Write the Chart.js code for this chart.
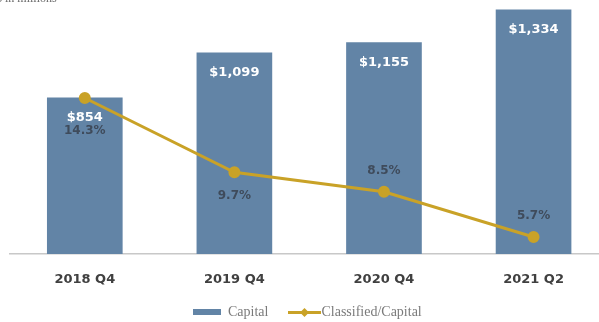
<!DOCTYPE html>
<html>
<head>
<meta charset="utf-8">
<script src="https://cdn.jsdelivr.net/npm/chart.js@4.4.0/dist/chart.umd.min.js"></script>
<style>
    html, body { margin: 0; padding: 0; background: #ffffff; overflow: hidden; }
    #wrap { position: relative; width: 599px; height: 322px; }
    #unit {
        position: absolute; left: -4px; top: -9px;
        font: 12px "Liberation Serif", serif; color: #6b6b6b;
    }
    #legenda {
        position: absolute; left: 193px; top: 303px; height: 18px;
        display: flex; align-items: center;
        font: 14px "Liberation Serif", serif; color: #7a7a7a;
    }
    #legenda .item { display: flex; align-items: center; }
    #legenda canvas { display: block; }
</style>
</head>
<body>
<div id="wrap">
    <div id="unit">$ in millions</div>
    <canvas id="grafico"></canvas>
    <div id="legenda"></div>
</div>
<script>
const categorias = ['2018 Q4', '2019 Q4', '2020 Q4', '2021 Q2'];
const capital = [854, 1099, 1155, 1334];
const classificado = [14.3, 9.7, 8.5, 5.7];
// rótulo % abaixo ou acima do ponto
const posRotuloPct = ['below', 'below', 'above', 'above'];

const corBarra = '#6284a6';
const corLinha = '#c9a227';

// ícones da legenda
function iconeBarra() {
    const c = document.createElement('canvas');
    c.width = 28; c.height = 6;
    const g = c.getContext('2d');
    g.fillStyle = corBarra;
    g.fillRect(0, 0, 28, 6);
    c.style.marginRight = '7px';
    return c;
}
function iconeLinha() {
    const c = document.createElement('canvas');
    c.width = 33; c.height = 9;
    const g = c.getContext('2d');
    g.strokeStyle = corLinha;
    g.lineWidth = 3;
    g.beginPath(); g.moveTo(0, 4.5); g.lineTo(33, 4.5); g.stroke();
    g.fillStyle = corLinha;
    g.beginPath(); g.moveTo(16.5, 0); g.lineTo(21, 4.5); g.lineTo(16.5, 9); g.lineTo(12, 4.5); g.closePath(); g.fill();
    return c;
}

function montarLegenda() {
    const leg = document.getElementById('legenda');
    const itens = [
        { texto: 'Capital', icone: iconeBarra() },
        { texto: 'Classified/Capital', icone: iconeLinha() }
    ];
    itens.forEach((it, i) => {
        const el = document.createElement('div');
        el.className = 'item';
        if (i > 0) el.style.marginLeft = '20px';
        el.appendChild(it.icone);
        const span = document.createElement('span');
        span.textContent = it.texto;
        el.appendChild(span);
        leg.appendChild(el);
    });
}

const rotulosPlugin = {
    id: 'rotulos',
    afterDatasetsDraw(chart) {
        const ctx = chart.ctx;
        ctx.save();
        ctx.textAlign = 'center';
        ctx.textBaseline = 'middle';

        const barras = chart.getDatasetMeta(1).data;
        ctx.font = 'bold 13px "DejaVu Sans"';
        ctx.fillStyle = '#ffffff';
        barras.forEach((b, i) => {
            ctx.fillText('$' + capital[i].toLocaleString('en-US'), b.x, b.y + 20);
        });

        const pontos = chart.getDatasetMeta(0).data;
        ctx.font = 'bold 12px "DejaVu Sans"';
        ctx.fillStyle = '#3f4b5b';
        pontos.forEach((p, i) => {
            let y;
            if (i === 0) y = p.y + 33;
            else y = posRotuloPct[i] === 'below' ? p.y + 24 : p.y - 21;
            ctx.fillText(classificado[i].toFixed(1) + '%', p.x, y);
        });
        ctx.restore();
    }
};

new Chart(document.getElementById('grafico'), {
    data: {
        datasets: [
            {
                type: 'line',
                label: 'Classified/Capital',
                data: classificado.map((v, i) => ({ x: i, y: v })),
                yAxisID: 'y1',
                borderColor: corLinha,
                backgroundColor: corLinha,
                borderWidth: 3,
                pointRadius: 4.5,
                pointHoverRadius: 4.5,
                tension: 0,
                order: 0
            },
            {
                type: 'bar',
                label: 'Capital',
                data: capital.map((v, i) => ({ x: i, y: v })),
                yAxisID: 'y',
                backgroundColor: corBarra,
                barThickness: 75,
                order: 1
            }
        ]
    },
    options: {
        responsive: true,
        maintainAspectRatio: false,
        animation: false,
        layout: { autoPadding: false, padding: { top: 5, left: 10, right: 0, bottom: 23 } },
        plugins: {
            legend: { display: false },
            tooltip: { enabled: false }
        },
        scales: {
            x: {
                type: 'linear',
                offset: false,
                min: -0.5,
                max: 3.4375,
                grid: { display: false, drawTicks: false },
                border: { color: '#c8c8c8', width: 1.5 },
                afterBuildTicks: axis => { axis.ticks = categorias.map((c, i) => ({ value: i })); },
                afterFit: axis => { axis.height = 45; },
                ticks: {
                    padding: 18,
                    color: '#404040',
                    font: { family: '"DejaVu Sans"', size: 13, weight: 'bold' },
                    callback: v => categorias[v]
                }
            },
            y: {
                display: false,
                min: 0,
                max: 1361
            },
            y1: {
                display: false,
                min: 4.65,
                max: 20.05
            }
        }
    },
    plugins: [rotulosPlugin]
});
montarLegenda();
</script>
</body>
</html>
